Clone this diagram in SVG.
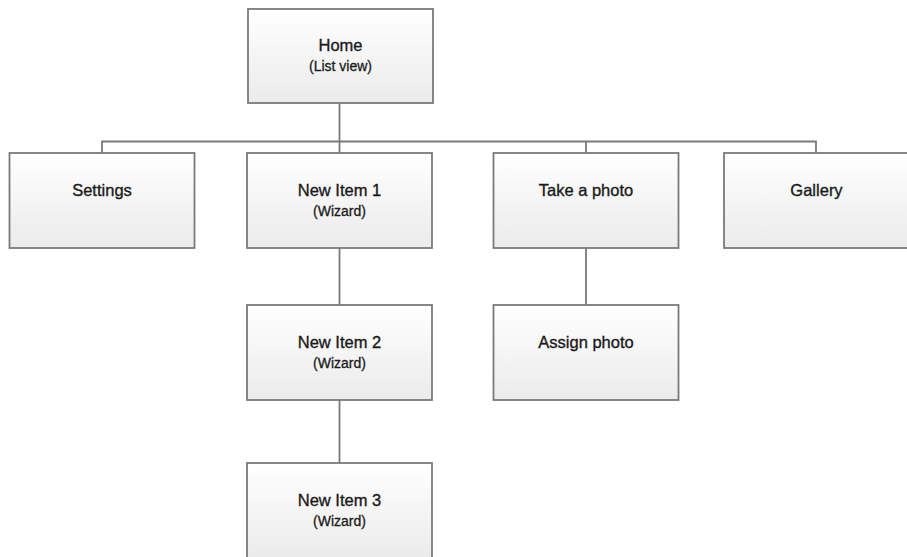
<svg xmlns="http://www.w3.org/2000/svg" width="907" height="557" viewBox="0 0 907 557">
<style>
.box{fill:url(#g);stroke:#7a7a7a;stroke-width:1.8}
.t{font-family:"Liberation Sans",Arial,sans-serif;font-size:16.5px;fill:#1a1a1a;stroke:#1a1a1a;stroke-width:0.35;text-anchor:middle}
.s{font-family:"Liberation Sans",Arial,sans-serif;font-size:14px;fill:#1a1a1a;stroke:#1a1a1a;stroke-width:0.3;text-anchor:middle}
.c{fill:none;stroke:#7a7a7a;stroke-width:1.8}
</style>
<defs>
<linearGradient id="g" x1="0" y1="0" x2="0" y2="1">
<stop offset="0" stop-color="#ffffff"/>
<stop offset="1" stop-color="#ebebeb"/>
</linearGradient>
</defs>
<rect width="907" height="557" fill="#ffffff"/>
<g id="connectors">
<path class="c" d="M339.5 103 V141.5 M102 153 V141.5 H816 V153 M339.5 141.5 V153 M586 141.5 V153 M339.5 248 V305 M339.5 400 V463 M586 248 V305"/>
</g>
<g id="home">
<rect class="box" x="248" y="9" width="185" height="94"/>
<text class="t" x="340.5" y="51">Home</text>
<text class="s" x="340.5" y="71">(List view)</text>
</g>
<g id="settings">
<rect class="box" x="9.5" y="153" width="185" height="95"/>
<text class="t" x="102" y="195.5">Settings</text>
</g>
<g id="newitem1">
<rect class="box" x="247" y="153" width="185" height="95"/>
<text class="t" x="339.5" y="195.5">New Item 1</text>
<text class="s" x="339.5" y="216">(Wizard)</text>
</g>
<g id="takephoto">
<rect class="box" x="493.5" y="153" width="185" height="95"/>
<text class="t" x="586" y="195.5">Take a photo</text>
</g>
<g id="gallery">
<rect class="box" x="724" y="153" width="185" height="95"/>
<text class="t" x="816.5" y="195.5">Gallery</text>
</g>
<g id="newitem2">
<rect class="box" x="247" y="305" width="185" height="95"/>
<text class="t" x="339.5" y="347.5">New Item 2</text>
<text class="s" x="339.5" y="368">(Wizard)</text>
</g>
<g id="assignphoto">
<rect class="box" x="493.5" y="305" width="185" height="95"/>
<text class="t" x="586" y="347.5">Assign photo</text>
</g>
<g id="newitem3">
<rect class="box" x="247" y="463" width="185" height="95"/>
<text class="t" x="339.5" y="505.5">New Item 3</text>
<text class="s" x="339.5" y="526">(Wizard)</text>
</g>
</svg>
